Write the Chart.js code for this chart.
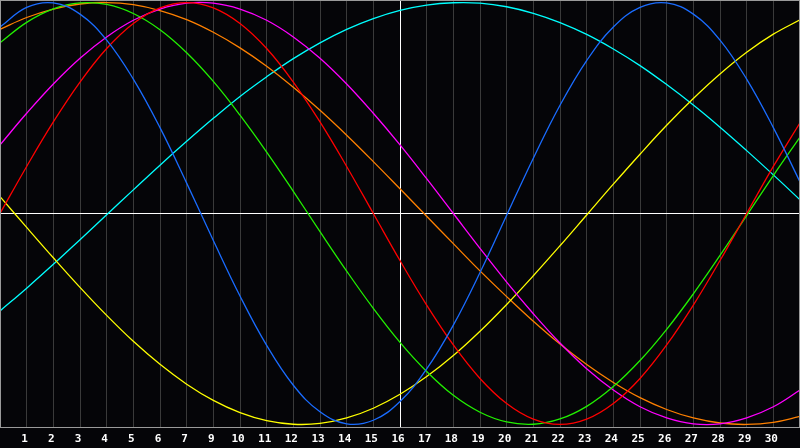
<!DOCTYPE html>
<html lang="en">
<head>
    <meta charset="UTF-8">
    <title>Biorhythm</title>
    <script src="https://cdn.jsdelivr.net/npm/chart.js"></script>
    <style>
        html, body {
            margin: 0;
            padding: 0;
            background-color: #050508;
            overflow: hidden;
        }

        canvas {
            display: block;
        }
    </style>
</head>
<body>
    <canvas id="bioChart" width="800" height="448"></canvas>

    <script>
        // day numbers under the internal grid lines (8 is missing in the original)
        const dayLabels = [1, 2, 3, 4, 5, 6, 7, 9, 10, 11, 12, 13, 14, 15, 16,
            17, 18, 19, 20, 21, 22, 23, 24, 25, 26, 27, 28, 29, 30];

        // x positions 0..30, one value each
        const physical = [0.884, 0.977, 0.998, 0.945, 0.822, 0.637, 0.407, 0.144, -0.128, -0.391,
            -0.625, -0.814, -0.940, -0.997, -0.980, -0.891, -0.737, -0.529, -0.280, -0.008,
            0.262, 0.513, 0.725, 0.884, 0.977, 0.998, 0.945, 0.822, 0.637, 0.407, 0.150];
        const emotional = [0.000, 0.223, 0.434, 0.623, 0.782, 0.901, 0.975, 1.000, 0.975, 0.901,
            0.782, 0.623, 0.434, 0.223, 0.000, -0.223, -0.434, -0.623, -0.782, -0.901,
            -0.975, -1.000, -0.975, -0.901, -0.782, -0.623, -0.434, -0.223, 0.000, 0.223, 0.430];
        const intellectual = [0.809, 0.906, 0.970, 0.998, 0.991, 0.948, 0.871, 0.762, 0.626, 0.466,
            0.291, 0.105, -0.086, -0.273, -0.450, -0.611, -0.749, -0.862, -0.942, -0.988,
            -0.999, -0.974, -0.914, -0.820, -0.697, -0.549, -0.381, -0.199, -0.010, 0.180, 0.362];
        const intuitive = [0.325, 0.475, 0.614, 0.736, 0.837, 0.916, 0.969, 0.997, 0.997, 0.969,
            0.916, 0.837, 0.736, 0.614, 0.475, 0.325, 0.165, 0.000, -0.165, -0.325,
            -0.475, -0.614, -0.736, -0.837, -0.916, -0.969, -0.997, -0.997, -0.969, -0.916, -0.837];
        const aesthetic = [0.080, -0.066, -0.210, -0.350, -0.483, -0.606, -0.715, -0.809, -0.886, -0.944,
            -0.982, -0.999, -0.995, -0.969, -0.923, -0.857, -0.773, -0.673, -0.558, -0.431,
            -0.295, -0.153, -0.007, 0.139, 0.281, 0.418, 0.545, 0.661, 0.764, 0.850, 0.918];
        const awareness = [0.873, 0.929, 0.969, 0.993, 1.000, 0.990, 0.962, 0.919, 0.859, 0.785,
            0.698, 0.598, 0.489, 0.371, 0.246, 0.117, -0.013, -0.143, -0.272, -0.394,
            -0.511, -0.619, -0.716, -0.801, -0.873, -0.929, -0.969, -0.993, -1.000, -0.990, -0.962];
        const spiritual = [-0.462, -0.354, -0.241, -0.124, -0.006, 0.112, 0.229, 0.342, 0.451, 0.555,
            0.648, 0.734, 0.809, 0.873, 0.924, 0.963, 0.988, 0.999, 0.997, 0.980,
            0.949, 0.905, 0.849, 0.780, 0.701, 0.611, 0.514, 0.409, 0.298, 0.183, 0.065];

        function toPoints(values) {
            return values.map((v, i) => ({ x: i, y: v }));
        }

        function line(label, values, color) {
            return {
                label: label,
                data: toPoints(values),
                borderColor: color,
                borderWidth: 1.3,
                pointRadius: 0,
                tension: 0.4,
                fill: false
            };
        }

        // grey frame round the plot
        const framePlugin = {
            id: 'frame',
            afterDraw(chart) {
                const a = chart.chartArea;
                const c = chart.ctx;
                c.save();
                c.strokeStyle = '#9a9a9a';
                c.lineWidth = 1;
                c.strokeRect(a.left + 0.5, a.top + 0.5, a.right - a.left - 1, a.bottom - a.top);
                c.restore();
            }
        };

        const bgPlugin = {
            id: 'bg',
            beforeDraw(chart) {
                const c = chart.ctx;
                c.save();
                c.fillStyle = '#050508';
                c.fillRect(0, 0, chart.width, chart.height);
                c.restore();
            }
        };

        const ctx = document.getElementById('bioChart').getContext('2d');
        const chart = new Chart(ctx, {
            type: 'line',
            data: {
                datasets: [
                    line('Physical', physical, '#1a6cff'),
                    line('Emotional', emotional, '#ff0000'),
                    line('Intellectual', intellectual, '#22f000'),
                    line('Intuitive', intuitive, '#ff00ff'),
                    line('Aesthetic', aesthetic, '#ffff00'),
                    line('Awareness', awareness, '#ff8000'),
                    line('Spiritual', spiritual, '#00ffff')
                ]
            },
            options: {
                responsive: false,
                animation: false,
                devicePixelRatio: 1,
                layout: { padding: 0 },
                plugins: {
                    legend: { display: false },
                    tooltip: { enabled: false }
                },
                scales: {
                    x: {
                        type: 'linear',
                        min: 0,
                        max: 30,
                        afterBuildTicks: (scale) => {
                            scale.ticks = dayLabels.map((d, i) => ({ value: i + 1 }));
                        },
                        afterFit: (scale) => { scale.height = 21; },
                        grid: {
                            drawTicks: false,
                            color: (c) => c.tick && c.tick.value === 15 ? '#ffffff' : '#3a3a3a',
                            lineWidth: 1
                        },
                        border: { display: false },
                        ticks: {
                            autoSkip: false,
                            maxRotation: 0,
                            padding: 6,
                            labelOffset: -2,
                            color: '#ffffff',
                            font: { family: 'DejaVu Sans Mono', size: 11, weight: 'bold' },
                            callback: (value) => dayLabels[value - 1]
                        }
                    },
                    y: {
                        min: -1.012,
                        max: 1.012,
                        afterBuildTicks: (scale) => {
                            scale.ticks = [{ value: 0 }];
                        },
                        afterFit: (scale) => { scale.width = 0; },
                        grid: {
                            drawTicks: false,
                            color: '#ffffff',
                            lineWidth: 1
                        },
                        border: { display: false },
                        ticks: { display: false }
                    }
                }
            },
            plugins: [bgPlugin, framePlugin]
        });
    </script>
</body>
</html>
